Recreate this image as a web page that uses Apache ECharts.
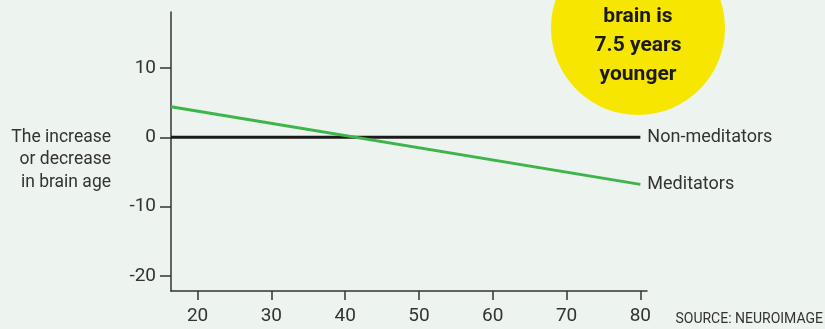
<!DOCTYPE html>
<html>
<head>
<meta charset="utf-8">
<script src="https://cdn.jsdelivr.net/npm/echarts@6/dist/echarts.min.js"></script>
<style>
  html, body { margin: 0; padding: 0; background: #edf3ee; }
  #brain-age { width: 825px; height: 329px; }
</style>
</head>
<body>
<div id="brain-age"></div>
<script>
// chart values
var ages = [16.4, 80];
var nonMeditators = [0, 0];
var meditators = [4.4, -6.8];
var xTicks = [20, 30, 40, 50, 60, 70, 80];
var yTicks = [-20, -10, 0, 10];
var yAxisTitle = "The increase\nor decrease\nin brain age";
var bubbleLines = ["at age 50,", "brain is", "7.5 years", "younger"];
var sourceText = "SOURCE: NEUROIMAGE";

var font = "Roboto";
var textColor = "#333";

function pairs(xs, ys) {
  var out = [];
  for (var i = 0; i < xs.length; i++) {
    out.push([xs[i], ys[i]]);
  }
  return out;
}

var chart = echarts.init(document.getElementById("brain-age"));

var bubbleText = [];
for (var i = 0; i < bubbleLines.length; i++) {
  bubbleText.push({
    type: "text",
    x: 638,
    y: (i == 0 ? -10 : -12 + i * 29),
    z: 11,
    style: {
      text: bubbleLines[i],
      align: "center",
      verticalAlign: "middle",
      fontFamily: font,
      fontWeight: "bold",
      fontSize: 21,
      fill: "#1a1a1a"
    }
  });
}

var option = {
  backgroundColor: "#edf3ee",
  animation: false,
  grid: {
    left: 171,
    right: 178,
    top: 12,
    bottom: 38
  },
  xAxis: {
    type: "value",
    min: 16.4,
    max: 80.9,
    splitLine: { show: false },
    axisLine: { onZero: false, lineStyle: { color: textColor, width: 1.5 } },
    axisTick: {
      show: true,
      length: 9,
      customValues: xTicks,
      lineStyle: { color: textColor, width: 1.5 }
    },
    axisLabel: {
      customValues: xTicks,
      margin: 16,
      color: textColor,
      fontFamily: font,
      fontSize: 19
    }
  },
  yAxis: {
    type: "value",
    min: -22.2,
    max: 18.1,
    splitLine: { show: false },
    axisLine: { show: true, onZero: false, lineStyle: { color: textColor, width: 1.5 } },
    axisTick: {
      show: true,
      length: 11,
      customValues: yTicks,
      lineStyle: { color: textColor, width: 1.5 }
    },
    axisLabel: {
      customValues: yTicks,
      margin: 15,
      color: textColor,
      fontFamily: font,
      fontSize: 19
    }
  },
  series: [
    {
      name: "Non-meditators",
      type: "line",
      symbol: "none",
      data: pairs(ages, nonMeditators),
      lineStyle: { color: "#1a1a1a", width: 3 },
      endLabel: {
        show: true,
        formatter: "{a}",
        distance: 7,
        color: textColor,
        fontFamily: font,
        fontSize: 18
      }
    },
    {
      name: "Meditators",
      type: "line",
      symbol: "none",
      data: pairs(ages, meditators),
      lineStyle: { color: "#3db54a", width: 3 },
      endLabel: {
        show: true,
        formatter: "{a}",
        distance: 7,
        color: textColor,
        fontFamily: font,
        fontSize: 18
      }
    }
  ],
  graphic: [
    {
      type: "circle",
      z: 10,
      shape: { cx: 638, cy: 28, r: 87 },
      style: { fill: "#f6e600" }
    },
    {
      type: "text",
      x: 111,
      y: 126,
      style: {
        text: yAxisTitle,
        align: "right",
        verticalAlign: "top",
        lineHeight: 22.5,
        fontFamily: font,
        fontSize: 17.5,
        fill: textColor
      }
    },
    {
      type: "text",
      right: 2,
      top: 312,
      style: {
        text: sourceText,
        fontFamily: font,
        fontSize: 14,
        fill: textColor
      }
    }
  ].concat(bubbleText)
};

chart.setOption(option);
window.addEventListener("resize", function() {
  chart.resize();
});
</script>
</body>
</html>
